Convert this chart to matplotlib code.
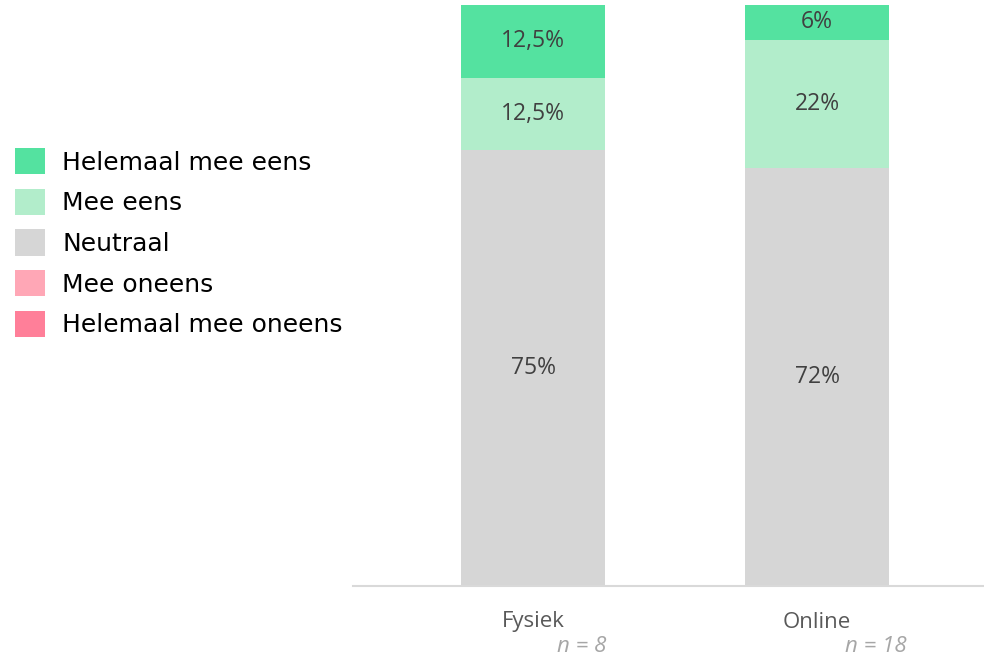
import matplotlib.pyplot as plt
import numpy as np

categories = ['Fysiek', 'Online']
n_labels = ['n = 8', 'n = 18']
series = ['Helemaal mee oneens', 'Mee oneens', 'Neutraal', 'Mee eens', 'Helemaal mee eens']
values = {
    'Helemaal mee oneens': [0, 0],
    'Mee oneens': [0, 0],
    'Neutraal': [75, 72],
    'Mee eens': [12.5, 22],
    'Helemaal mee eens': [12.5, 6],
}
value_labels = {
    'Neutraal': ['75%', '72%'],
    'Mee eens': ['12,5%', '22%'],
    'Helemaal mee eens': ['12,5%', '6%'],
}
colors = {
    'Helemaal mee oneens': '#FF7F99',
    'Mee oneens': '#FFA7B6',
    'Neutraal': '#D6D6D6',
    'Mee eens': '#B2EDCB',
    'Helemaal mee eens': '#54E2A0',
}

fig = plt.figure(figsize=(9.84, 6.57), dpi=100)
ax = fig.add_axes([353/984, 71/657, 631/984, 581/657])

x = np.arange(len(categories))
bottom = np.zeros(len(categories))
handles = {}
for s in series:
    v = np.array(values[s], dtype=float)
    bars = ax.bar(x, v, 0.507, bottom=bottom, color=colors[s], label=s)
    handles[s] = bars
    if s in value_labels:
        for i in range(len(x)):
            ax.text(x[i], bottom[i] + v[i] / 2, value_labels[s][i], ha='center', va='center',
                    fontsize=16.5, color='#404040', family='Open Sans')
    bottom += v

ax.set_xlim(-0.634, 1.588)
ax.set_ylim(0, 100)
for sp in ['top', 'right', 'left']:
    ax.spines[sp].set_visible(False)
ax.spines['bottom'].set_color('#D9D9D9')
ax.spines['bottom'].set_linewidth(1.5)
ax.set_yticks([])
ax.set_xticks(x)
ax.set_xticklabels([])
ax.tick_params(axis='x', length=0)

for i in range(len(x)):
    ax.annotate(categories[i], (x[i], 0), xytext=(0, -36), textcoords='offset pixels',
                ha='center', va='center', fontsize=16, color='#595959', family='Open Sans')
    ax.annotate(n_labels[i], (x[i], 0), xytext=(49 + 10 * i, -60), textcoords='offset pixels',
                ha='center', va='center', fontsize=16, color='#A6A6A6', family='Open Sans',
                style='italic')

leg_order = series[::-1]
fig.legend([handles[s] for s in leg_order], leg_order, loc='upper left',
           bbox_to_anchor=(0.0, 1 - 133/657), frameon=False,
           prop={'family': 'DejaVu Sans', 'size': 18}, handlelength=1.18, handleheight=1.25,
           handletextpad=0.72, labelspacing=0.56, borderaxespad=0.2)

fig.savefig('out.png', dpi=100)
